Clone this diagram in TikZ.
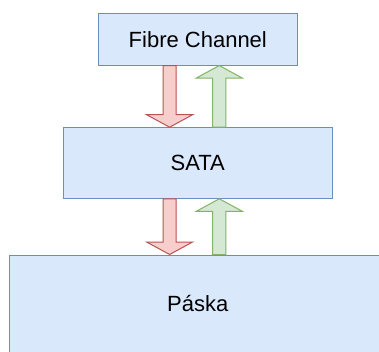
\documentclass[tikz,border=0pt]{standalone}
\usepackage{fontspec}
\setmainfont{Liberation Sans}
\usetikzlibrary{calc}

\definecolor{boxfill}{HTML}{DAE8FC}
\definecolor{boxline}{HTML}{6C8EBF}
\definecolor{redfill}{HTML}{F8CECC}
\definecolor{redline}{HTML}{B85450}
\definecolor{greenfill}{HTML}{D5E8D4}
\definecolor{greenline}{HTML}{82B366}

\tikzset{
  box/.style={draw=boxline, fill=boxfill, line width=1pt, inner sep=0pt,
    font=\fontsize{22}{26}\selectfont},
  redarrow/.style={draw=redline, fill=redfill, line width=1pt},
  greenarrow/.style={draw=greenline, fill=greenfill, line width=1pt}
}

% block arrow: style, tail, tip (vertical only)
\newcommand{\blockarrow}[3]{%
  \draw[#1] let \p1=(#2), \p2=(#3), \p3=($(#3)!12.5pt!(#2)$) in
    (\x1-6.6pt,\y1) -- (\x1-6.6pt,\y3) -- (\x1-23pt,\y3) -- (\x2,\y2)
    -- (\x1+23pt,\y3) -- (\x1+6.6pt,\y3) -- (\x1+6.6pt,\y1) -- cycle;
}

\begin{document}
\begin{tikzpicture}[x=1pt, y=-1pt]
    % page frame
    \useasboundingbox (0, 0) rectangle (379, 351);
    \clip (0, 0) rectangle (379, 351);
    % layers
    \node [box, minimum width=199pt, minimum height=51.7pt] (fc) at (197.8, 39.2) {Fibre Channel};
    \node [box, minimum width=269pt, minimum height=70.6pt] (sata) at (197.8, 163) {SATA};
    \node [box, minimum width=376.6pt, minimum height=97pt] (paska) at (197.8, 303.5) {Páska};
    % arrow columns
    \coordinate (xred) at (169.6, 0);
    \coordinate (xgreen) at (219.3, 0);
    % downward arrows
    \blockarrow{redarrow}{fc.south -| xred}{sata.north -| xred}
    \blockarrow{redarrow}{sata.south -| xred}{paska.north -| xred}
    % upward arrows
    \blockarrow{greenarrow}{sata.north -| xgreen}{fc.south -| xgreen}
    \blockarrow{greenarrow}{paska.north -| xgreen}{sata.south -| xgreen}
\end{tikzpicture}
\end{document}
